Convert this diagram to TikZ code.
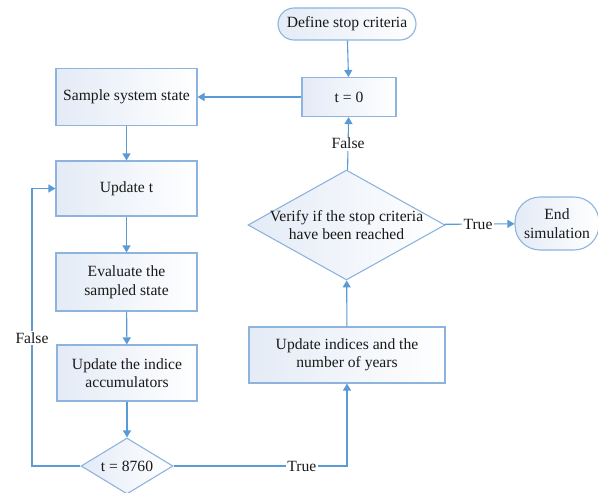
\documentclass[tikz,border=0pt]{standalone}
\usepackage{fontspec}
\setmainfont{Liberation Serif}
\usetikzlibrary{arrows.meta,shapes.geometric}
\definecolor{flowline}{RGB}{91,155,213}
\definecolor{boxedge}{RGB}{140,180,223}
\definecolor{boxtint}{RGB}{228,235,246}
\definecolor{txt}{RGB}{25,25,25}
\tikzset{
  boxbase/.style={draw=boxedge, line width=1.1pt, left color=boxtint, right color=white,
    text=txt, font=\fontsize{15.6}{18.5}\selectfont, align=center, inner sep=2pt},
  procbox/.style={boxbase, rectangle, minimum width=141pt, minimum height=57pt},
  termbox/.style={boxbase, rectangle, rounded corners=16pt},
  decbox/.style={boxbase, diamond, inner sep=0pt},
  txtlabel/.style={text=txt, font=\fontsize{15.6}{18.5}\selectfont, align=center, inner sep=1pt},
  edgelabel/.style={txtlabel, fill=white, inner sep=1.5pt},
  flow/.style={draw=flowline, line width=1.1pt, -{Triangle[length=7pt,width=8pt]}},
  flowplain/.style={draw=flowline, line width=1.1pt}
}
\begin{document}
\begin{tikzpicture}[x=1pt,y=-1pt]
\useasboundingbox (0,0) rectangle (598,493);
\clip (0,0) rectangle (598,493);

% nodes of the flowchart
\node[termbox, minimum width=138pt, minimum height=32pt] (define) at (347,24) {Define stop criteria};
\node[procbox, minimum width=94pt, minimum height=39pt] (t0) at (349,97) {t = 0};
\node[procbox] (sample) at (126.5,97) {Sample system state};
\node[procbox, minimum height=55pt] (updt) at (126.5,188.5) {Update t};
\node[procbox, minimum height=58pt] (eval) at (126.5,282) {Evaluate the\\sampled state};
\node[procbox, minimum width=140pt, minimum height=56pt] (acc) at (127,373) {Update the indice\\accumulators};
\node[decbox, minimum width=92pt, minimum height=56pt] (chk) at (127,466) {};
\node[txtlabel] at (chk) {t = 8760};
\node[procbox, minimum width=196pt, minimum height=56pt] (updy) at (347,355) {Update indices and the\\number of years};
\node[decbox, minimum width=197pt, minimum height=110pt] (verify) at (346.5,225) {};
\node[txtlabel] at (verify) {Verify if the stop criteria\\have been reached};
\node[termbox, rounded corners=25pt, minimum width=84pt, minimum height=53pt] (endsim) at (557,223.5) {End\\simulation};

% connectors
\draw[flow] (define) -- (t0);
\draw[flow] (t0) -- (sample);
\draw[flow] (sample) -- (updt);
\draw[flow] (updt) -- (eval);
\draw[flow] (eval) -- (acc);
\draw[flow] (acc) -- (chk);
\coordinate (loopcorner) at (32,466);
\draw[flow] (chk.west) -- (loopcorner) |- (updt.west)
  node[edgelabel, pos=0.23] {False};
\draw[flow] (chk.east) -| (updy.south)
  node[edgelabel, pos=0.37] {True};
\draw[flow] (updy) -- (verify);
\draw[flow] (verify) -- (t0) node[edgelabel, midway] {False};
\draw[flow] (verify) -- (endsim) node[edgelabel, pos=0.48] {True};
\end{tikzpicture}
\end{document}
